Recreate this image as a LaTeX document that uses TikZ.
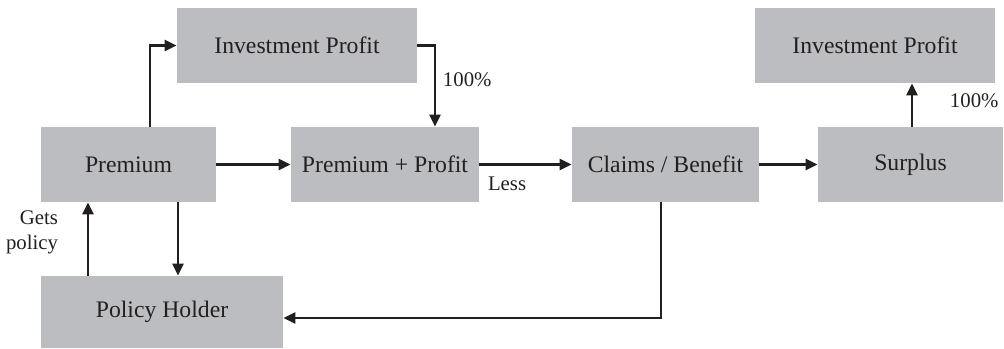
\documentclass[tikz,border=0pt]{standalone}
\usepackage{fontspec}
\setmainfont{Liberation Serif}
\usetikzlibrary{arrows.meta}
\definecolor{boxgray}{HTML}{BCBDC0}
\definecolor{ink}{HTML}{231F20}
\tikzstyle{arr}=[->,>={Triangle[length=6pt,width=5.5pt]},line width=1.3pt,draw=ink]
\tikzstyle{box}=[fill=boxgray,text=ink,minimum height=37.5pt,inner sep=0pt,
  font=\fontsize{11.85}{14}\selectfont]
\tikzstyle{lbl}=[text=ink,font=\fontsize{10.4}{12.5}\selectfont]

\begin{document}
\begin{tikzpicture}[x=0.5pt,y=-0.5pt]
  \useasboundingbox (0,0) rectangle (1004,348);

  \node[box,minimum width=120pt] (invA) at (297,45.5) {Investment Profit};
  \node[box,minimum width=87.5pt] (prem) at (128.5,164.5) {Premium};
  \node[box,minimum width=94pt] (pp) at (385,164.5) {Premium + Profit};
  \node[box,minimum width=93.5pt] (cb) at (665.5,164.5) {Claims / Benefit};
  \node[box,minimum width=92.5pt] (surp) at (910.5,164.5) {Surplus};
  \node[box,minimum width=120pt] (invB) at (875,45.5) {Investment Profit};
  \node[box,minimum width=121pt,minimum height=36pt] (ph) at (162,312) {Policy Holder};

  \coordinate (pUp) at ([xshift=10.75pt]prem.north);
  \coordinate (pDown) at ([xshift=24.75pt]prem.south);
  \coordinate (hUp) at ([xshift=-37pt]ph.north);
  \coordinate (sUp) at ([xshift=0.75pt]surp.north);

  \draw[arr] (pUp) |- (invA.west);
  \draw[arr] (invA.east) -| ([xshift=25pt]pp.north)
    node[lbl,pos=0.71,right] {100\%};
  \draw[arr] (prem) -- (pp);
  \draw[arr] (pp) -- (cb) node[lbl,pos=0.3,below,yshift=-2pt] {Less};
  \draw[arr] (cb) -- (surp);
  \draw[arr] (sUp) -- (sUp |- invB.south)
    node[lbl,pos=0.61,right,xshift=15pt] {100\%};
  \draw[arr] ([xshift=-2.25pt]cb.south) |- ([yshift=-3pt]ph.east);
  \draw[arr] (pDown) -- (pDown |- ph.north);
  \draw[arr] (hUp) -- (hUp |- prem.south)
    node[lbl,midway,left,align=right,xshift=-11pt,yshift=3.5pt] {Gets\\policy};
\end{tikzpicture}
\end{document}
